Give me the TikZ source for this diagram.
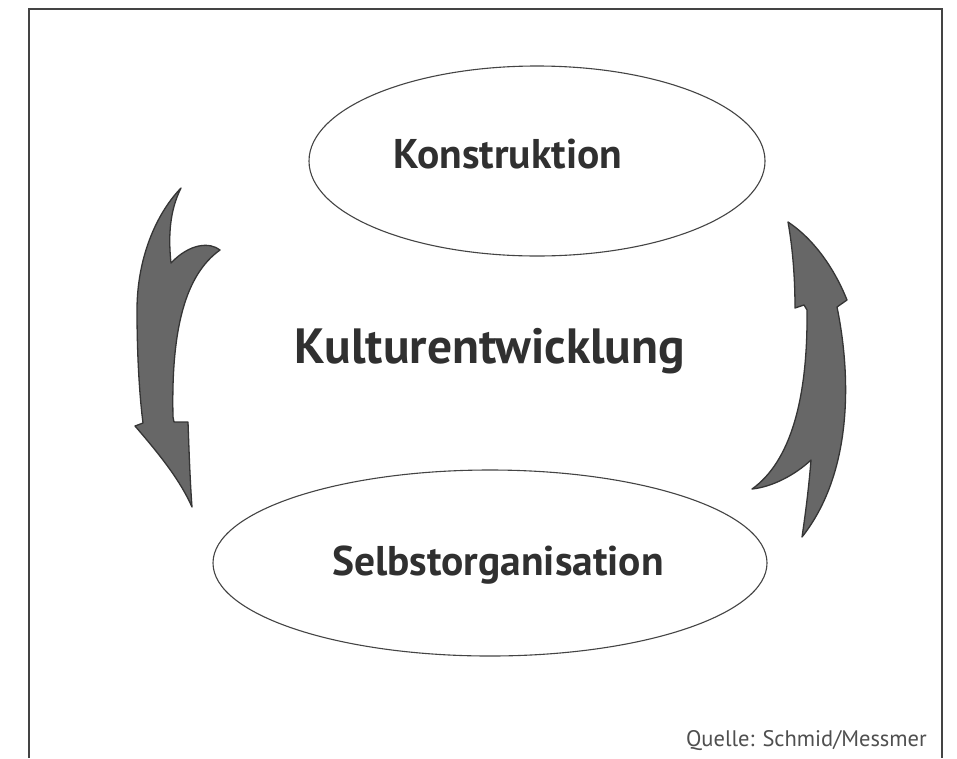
\documentclass[tikz,border=0pt]{standalone}
\usepackage{fontspec}
\setmainfont{PT Sans}
\usetikzlibrary{shapes.geometric}
\definecolor{framecol}{HTML}{444444}
\definecolor{arrowfill}{HTML}{676767}
\definecolor{arrowedge}{HTML}{353535}
\definecolor{textcol}{HTML}{303030}
\tikzset{
  oval/.style={ellipse, draw=framecol, line width=1.1pt, inner sep=0pt},
  bigtext/.style={text=textcol, font=\bfseries\fontsize{41.5}{48}\selectfont, inner sep=0pt, anchor=base},
  sourcetext/.style={text=textcol!85, font=\fontsize{22.5}{27}\selectfont, inner sep=0pt, anchor=base east},
  bentarrow/.style={fill=arrowfill, draw=arrowedge, line width=1.3pt, line join=round}
}
\begin{document}
\begin{tikzpicture}[x=1pt, y=-1pt]
\useasboundingbox (0,0) rectangle (957,758);
\fill[white] (0,0) rectangle (957,758);
% frame
\draw[framecol, line width=1.8pt] (29,758) -- (29,9) -- (942,9) -- (942,758);
% ellipses
\node[oval, minimum width=456pt, minimum height=190pt] (top) at (537,161) {};
\node[oval, minimum width=554pt, minimum height=186pt] (bottom) at (490,563) {};
% texts
\node[bigtext] (konstr) at (508,168) {Konstruktion};
\node[bigtext, font=\bfseries\fontsize{49.5}{56}\selectfont] (kultur) at (490,363) {Kulturentwicklung};
\node[bigtext] (selbst) at (498,575) {Selbstorganisation};
\node[sourcetext] (quelle) at (927,746) {Quelle: Schmid/Messmer};
% left arrow (down)
\draw[bentarrow] (181,188) .. controls (155,215) and (137,260) .. (137,310)
  .. controls (137,360) and (140,400) .. (143,423) -- (135,426)
  .. controls (160,455) and (180,480) .. (192,507)
  .. controls (190,480) and (189,450) .. (188,422) -- (174,422) -- (173,417)
  .. controls (171,330) and (185,275) .. (220,250)
  .. controls (210,242) and (190,243) .. (171,263)
  .. controls (168,235) and (170,210) .. (181,188) -- cycle;
% right arrow (up)
\draw[bentarrow] (788,222) .. controls (815,240) and (835,270) .. (847,300) -- (837,307)
  .. controls (850,370) and (855,470) .. (802,537)
  .. controls (806,510) and (809,485) .. (811,460)
  .. controls (795,475) and (772,487) .. (752,489)
  .. controls (790,462) and (808,400) .. (807,310) -- (804,305) -- (795,308)
  .. controls (795,280) and (793,250) .. (788,222) -- cycle;
\end{tikzpicture}
\end{document}
